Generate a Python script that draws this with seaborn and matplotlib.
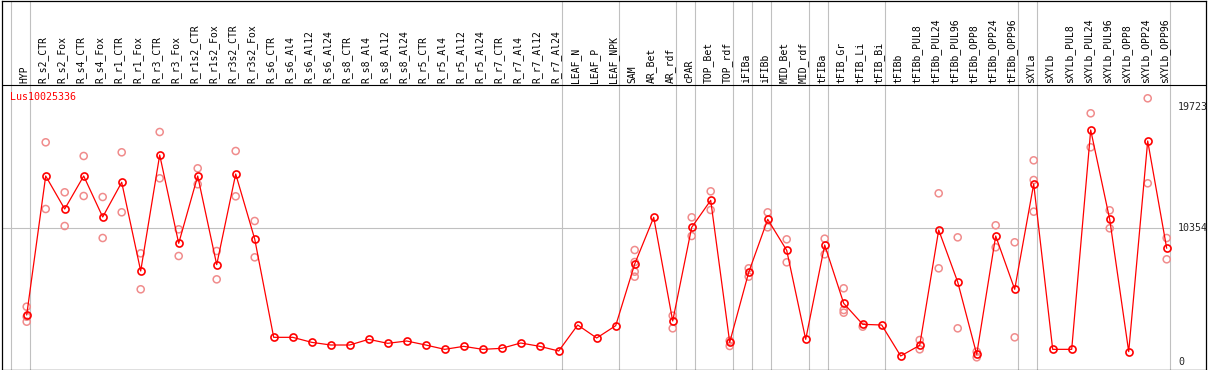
import numpy as np
import pandas as pd
import matplotlib
matplotlib.use('Agg')
import matplotlib.pyplot as plt
import seaborn as sns

gene = 'Lus10025336'

samples = ['HYP',
           'R_s2_CTR', 'R_s2_Fox', 'R_s4_CTR', 'R_s4_Fox', 'R_r1_CTR', 'R_r1_Fox',
           'R_r3_CTR', 'R_r3_Fox', 'R_r1s2_CTR', 'R_r1s2_Fox', 'R_r3s2_CTR', 'R_r3s2_Fox',
           'R_s6_CTR', 'R_s6_Al4', 'R_s6_Al12', 'R_s6_Al24',
           'R_s8_CTR', 'R_s8_Al4', 'R_s8_Al12', 'R_s8_Al24',
           'R_r5_CTR', 'R_r5_Al4', 'R_r5_Al12', 'R_r5_Al24',
           'R_r7_CTR', 'R_r7_Al4', 'R_r7_Al12', 'R_r7_Al24',
           'LEAF_N', 'LEAF_P', 'LEAF_NPK',
           'SAM', 'AR_Bet', 'AR_rdf', 'cPAR', 'TOP_Bet', 'TOP_rdf',
           'iFIBa', 'iFIBb', 'MID_Bet', 'MID_rdf', 'tFIBa',
           'tFIB_Gr', 'tFIB_Li', 'tFIB_Bi',
           'tFIBb', 'tFIBb_PUL8', 'tFIBb_PUL24', 'tFIBb_PUL96',
           'tFIBb_OPP8', 'tFIBb_OPP24', 'tFIBb_OPP96',
           'sXYLa',
           'sXYLb', 'sXYLb_PUL8', 'sXYLb_PUL24', 'sXYLb_PUL96',
           'sXYLb_OPP8', 'sXYLb_OPP24', 'sXYLb_OPP96']

mean_expr = [3639,
             14402, 11847, 14402, 11227, 13914, 7046,
             16028, 9188, 14402, 7537, 14557, 9524,
             1910, 1910, 1523, 1316,
             1316, 1755, 1446, 1626,
             1316, 980, 1213, 980,
             1058, 1471, 1213, 852,
             2865, 1858, 2813,
             7588, 11202, 3175, 10427, 12518, 1523,
             6943, 11047, 8646, 1755, 9059,
             4542, 2916, 2865,
             465, 1291, 10221, 6194,
             594, 9756, 5629,
             13783,
             980, 980, 17963, 11047,
             800, 17112, 8804]

nan = np.nan
rep_1 = [4282,
         17011, 13139, 15951, 12776, 16237, 8416,
         17809, 10272, 14996, 8595, 16338, 10918,
         nan, nan, nan, nan, nan, nan, nan, nan,
         nan, nan, nan, nan, nan, nan, nan, nan,
         nan, nan, nan,
         8672, nan, 3587, 11202, 13216, 1652,
         7253, 11589, 9497, nan, 9549,
         5706, 2735, nan,
         nan, 1703, 13061, 9652,
         800, 10584, 9268,
         15616,
         nan, nan, 19257, 11745,
         nan, 20418, 9601]
rep_2 = [3508,
         11847, 10530, 12853, 9601, 11591, 5629,
         14222, 8207, 13759, 6400, 12828, 8104,
         nan, nan, nan, nan, nan, nan, nan, nan,
         nan, nan, nan, nan, nan, nan, nan, nan,
         nan, nan, nan,
         7741, nan, 2607, 9756, 11770, 1239,
         6606, 10427, 7717, nan, 8337,
         4026, nan, nan,
         nan, 980, 7253, 2607,
         362, 8881, 1910,
         14092,
         nan, nan, 16624, 10350,
         nan, 13836, 7952]
rep_3 = [3121] + [nan] * 31 + [6994] + [nan] * 10 + [3820] + [nan] * 9 + [11640] + [nan] * 7
rep_4 = [nan] * 32 + [6606] + [nan] * 28

group_sizes = [1, 28, 3, 3, 1, 2, 1, 1, 2, 1, 3, 7, 1, 7]
y_labels = [0, 10354, 19723]

idx = np.arange(len(samples))
reps = pd.DataFrame({'idx': np.tile(idx, 4),
                     'value': rep_1 + rep_2 + rep_3 + rep_4}).dropna()
means = pd.DataFrame({'idx': idx, 'value': mean_expr})

sns.set_theme(style='white')
plt.rcParams['font.family'] = ['DejaVu Sans Mono', 'DejaVu Sans']

# pixel grid of the original: sample i sits at x = 26.7 + 19 i, value v at y = 362 - v / 77.43
px_per_val = 77.43
fig = plt.figure(figsize=(12.09, 3.70), dpi=100)
ax = fig.add_axes([1.5 / 1209, 0.5 / 370, 1204.5 / 1209, 369 / 370])
ax.set_xlim((1.5 - 26.7) / 19, (1206 - 26.7) / 19)
ax.set_ylim((362 - 369.5) * px_per_val, (362 - 0.5) * px_per_val)
plot_right = (1170 - 26.7) / 19
band_y = (362 - 85) * px_per_val
label_y = (362 - 83) * px_per_val

grey = '#c0c0c0'
ax.hlines(10354, ax.get_xlim()[0], plot_right, color=grey, lw=0.8, zorder=1)
ax.axvline(-1 + 0.18, color=grey, lw=0.8, zorder=1)
for end in np.cumsum(group_sizes) - 1:
    ax.axvline(end + 0.18, color=grey, lw=0.8, zorder=1)
ax.axhline(band_y, color='black', lw=0.8, zorder=1)

sns.scatterplot(data=reps, x='idx', y='value', marker='o', s=26, color='none',
                edgecolor='#f08c8c', linewidth=1.1, ax=ax, zorder=2)
sns.lineplot(data=means, x='idx', y='value', color='red', lw=0.9, marker='o',
             markersize=5.1, markerfacecolor='none', markeredgecolor='red',
             markeredgewidth=1.2, ax=ax, zorder=3)

for i, name in enumerate(samples):
    ax.text(i - 0.12, label_y, name, rotation=90, ha='center', va='bottom',
            fontsize=7, color='black')
ax.text(-0.88, (362 - 97) * px_per_val, gene, color='red', fontsize=7.2,
        ha='left', va='center')
for v in y_labels:
    ax.text((1178 - 26.7) / 19, v, str(v), fontsize=7.2, ha='left', va='center')

ax.set_xticks([])
ax.set_yticks([])
ax.set_xlabel('')
ax.set_ylabel('')
for sp in ax.spines.values():
    sp.set_color('black')
    sp.set_linewidth(0.9)

fig.savefig('out.png', dpi=100)
